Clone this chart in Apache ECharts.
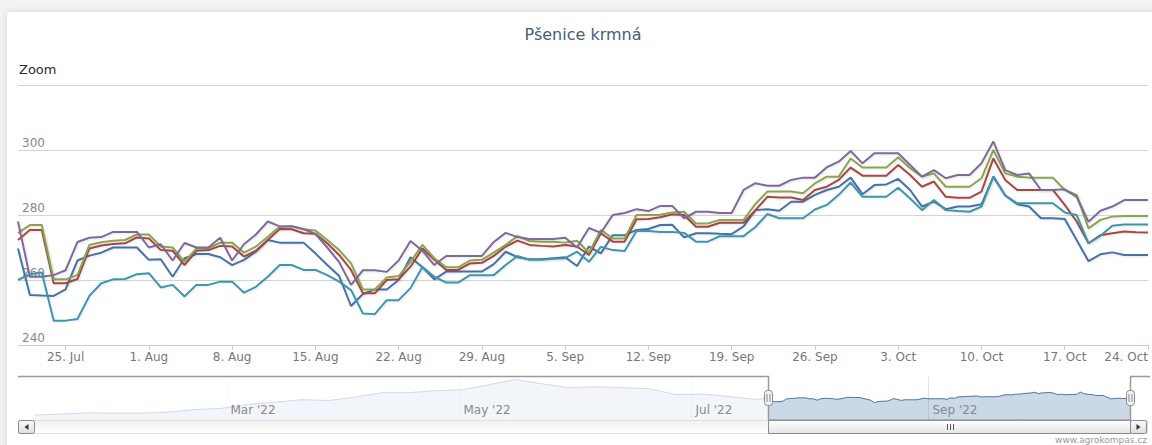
<!DOCTYPE html>
<html>
<head>
<meta charset="utf-8">
<title>Pšenice krmná</title>
<script src="https://cdn.jsdelivr.net/npm/echarts@6/dist/echarts.min.js"></script>
<style>
  html, body { margin: 0; padding: 0; background: #f3f3f3; overflow: hidden; }
  #card { position: absolute; left: 7px; top: 12px; width: 1170px; height: 460px; background: #fff;
          box-shadow: 0 0 7px rgba(0, 0, 0, 0.13); border-radius: 3px; }
  #chart { position: absolute; left: 0; top: 0; width: 1152px; height: 445px; }
</style>
</head>
<body>
<div id="card"></div>
<div id="chart"></div>
<script>
// daily values 21 Jul 2022 .. 24 Oct 2022
var startDate = Date.UTC(2022, 6, 21);
var dayCount = 96;
var DAY = 86400000;

var blue = [269.7, 255.4, 255.2, 255.1, 257.1, 266, 267.5, 268.4, 270, 270, 270, 266.2, 266.4, 261, 266.7, 268, 268,
  267, 264.6, 266.2, 268.7, 272.3, 271.5, 271.5, 271.5, 268.2, 264.6, 261.2, 252, 255.7, 257.1, 257.1, 260,
  267, 263.9, 260.2, 262.6, 262.6, 262.6, 262.6, 264.9, 268.7, 267, 266.4, 266.4, 266.7, 267, 264.3, 270.3, 268.2,
  273.8, 273.8, 275.4, 275.7, 276.9, 277, 273.1, 274.4, 274.4, 274.2, 274.1, 276.5, 281.5, 281.8, 281.3, 284.1,
  284.1, 286.2, 287.7, 288.7, 291.5, 286.4, 289.2, 289.4, 291.1, 287.7, 282.6, 284.1, 281.8, 282.6,
  282.6, 283.3, 291.8, 286, 283.3, 282.6, 279, 279, 278.8, 272.3, 265.8, 267.9, 268.5, 267.7, 267.7, 267.7];

var red = [272.3, 275.4, 275.4, 259, 259, 260.3, 269.7, 270.6, 271.1, 271.3, 273.1, 272.8, 269.2, 269, 264.6, 269, 269.2,
  270.5, 270.3, 267.2, 269, 272.3, 275.7, 275.6, 274.4, 274.2, 271.3, 267.7, 263.1, 255.9, 255.9, 260, 260.2,
  264.1, 269.7, 266.2, 263.1, 263.1, 265.1, 265.3, 267.4, 270.3, 272.1, 270.8, 270.5, 270.3, 270.8, 270.3, 267.7, 274.4,
  271.8, 271.8, 278.7, 278.8, 279.3, 280.2, 280, 276.4, 276.4, 277.6, 277.6, 277.6, 281.5, 285.6, 285.4, 285.4,
  284.6, 287.7, 288.7, 290.8, 294.6, 292.1, 292.1, 292.1, 295.4, 292.3, 288.7, 290.3, 285.6, 285.3,
  285.3, 287.2, 297.4, 290.8, 287.7, 287.7, 287.7, 287.7, 283.1, 278, 271.3, 273.8, 274.4, 274.9, 274.7, 274.6];

var green = [274.4, 276.9, 276.9, 260.2, 260.2, 261.5, 270.8, 271.6, 272.1, 272.3, 274, 274, 270.3, 270, 265.6, 269.7, 269.7,
  271.5, 271.5, 268.4, 270.3, 273.3, 276.4, 276.6, 275.6, 275.2, 272.3, 269.2, 265.1, 257.1, 257.1, 260.8, 261.2,
  265.6, 270.8, 266.7, 263.9, 263.9, 266, 266.2, 268.4, 270.8, 273.5, 272, 271.8, 271.8, 271.5, 272.1, 268.4, 275.4,
  272.8, 272.8, 280, 280, 280.1, 280.8, 281, 277.4, 277.4, 278.5, 278.5, 278.5, 283.4, 287.2, 287.2, 287.2,
  286.7, 289.7, 291.8, 291.8, 297.4, 294.6, 294.6, 294.6, 297.8, 294.4, 291.8, 292.8, 288.7, 288.7,
  288.7, 291.3, 300, 292.8, 291.8, 291.5, 291.5, 291.5, 287.7, 286.2, 275.9, 278.5, 279.5, 279.7, 279.7, 279.7];

var purple = [278, 261, 261, 261.5, 263, 271.7, 273, 273.2, 274.8, 274.8, 274.8, 270, 271, 266, 271.4, 270, 270,
  273, 266, 271, 274, 278, 276.5, 276.5, 275.7, 274.2, 270, 265.5, 258.5, 263, 263, 262.5, 266,
  272, 269, 264.6, 267.4, 267.4, 267.4, 267.4, 271.7, 274.5, 273.2, 272.6, 272.6, 272.6, 273, 270, 276, 274.5,
  280, 280.6, 281.8, 281.2, 282.8, 282.8, 279, 281, 281, 280.6, 280.6, 287.7, 289.8, 289, 289, 290.8,
  291.5, 291.5, 294.7, 296.4, 299.7, 295.9, 299, 299, 299, 295.4, 291.8, 293.8, 291.3, 292.3,
  292.3, 295.9, 302.6, 293.8, 292.3, 292.8, 287.7, 287.7, 287.9, 285.6, 277.9, 281.3, 282.6, 284.6, 284.6, 284.6];

var teal = [260, 261.8, 262.3, 247.5, 247.5, 248, 255.1, 259, 260.2, 260.3, 261.8, 262.1, 257.7, 258.5, 254.9, 258.5, 258.5,
  259.5, 259.5, 256.1, 257.9, 261, 264.6, 264.6, 263.1, 263.1, 261.5, 259.5, 256.9, 249.7, 249.5, 253.8, 253.8,
  257.5, 264, 261, 259.2, 259.2, 261.5, 261.5, 261.5, 264.6, 267.4, 266.2, 266.2, 266.5, 266.7, 268.7, 265.6, 270.2,
  269.2, 268.9, 275.1, 275.1, 274.8, 274.8, 274.5, 271.8, 271.8, 273.5, 273.5, 273.5, 276.3, 280.3, 279, 279,
  279, 281.7, 283.1, 286.2, 290, 285.6, 285.6, 285.6, 288.4, 285.1, 281.5, 284.6, 281.5, 281.2,
  281, 282.6, 291.8, 286, 283.6, 283.6, 283.6, 283.6, 280.8, 280, 271.3, 273.6, 276.7, 277.1, 277.1, 277.1];

// navigator: weekly values from 10 Jan 2022 up to 18 Jul, then the daily blue series
var navStart = Date.UTC(2022, 0, 10);
var navWeekly = [203.8, 207.5, 212.4, 211.3, 211.3, 215, 225, 230, 245, 253.6, 262.6, 260, 273, 290, 290,
  297.5, 301, 320, 340.6, 323.8, 308.8, 312.5, 308.8, 305, 282.5, 284.4, 275, 263.8];
var navMonths = [Date.UTC(2022, 2, 1), Date.UTC(2022, 4, 1), Date.UTC(2022, 6, 1), Date.UTC(2022, 8, 1)];
var navMonthLabels = ["Mar '22", "May '22", "Jul '22", "Sep '22"];

var yTicks = [240, 260, 280, 300];
var seriesNames = ['Řada 1', 'Řada 2', 'Řada 3', 'Řada 4', 'Řada 5'];
var colors = ['#4572A7', '#AA4643', '#89A54E', '#80699B', '#3D96AE'];
var monthNames = ['Jan', 'Feb', 'Mar', 'Apr', 'May', 'Jun', 'Jul', 'Aug', 'Sep', 'Oct', 'Nov', 'Dec'];

var dayDates = [], dayLabels = [];
for (var i = 0; i < dayCount; i++) {
  var d = new Date(startDate + i * DAY);
  dayDates.push(d);
  dayLabels.push(d.getUTCDate() + '. ' + monthNames[d.getUTCMonth()]);
}
var isMonday = function (idx) { return dayDates[idx].getUTCDay() === 1; };

var navData = [];
for (var k = 0; k < navWeekly.length; k++) navData.push([navStart + k * 7 * DAY, navWeekly[k]]);
for (var j = 0; j < dayCount; j++) navData.push([startDate + j * DAY, blue[j]]);

var FONT = '"DejaVu Sans", Verdana, sans-serif';
var chart = echarts.init(document.getElementById('chart'), null, { renderer: 'svg' });

// navigator box (layout only)
var nav = { left: 35, right: 1130, top: 377, bottom: 420, outerLeft: 18, outerRight: 1148 };

var lineSeries = [blue, red, green, purple, teal].map(function (vals, n) {
  return {
    name: seriesNames[n], type: 'line', xAxisIndex: 0, yAxisIndex: 0,
    data: vals, symbol: 'none', silent: true,
    lineStyle: { width: 2, color: colors[n], shadowColor: 'rgba(0,0,0,0.10)', shadowBlur: 2, shadowOffsetX: 1, shadowOffsetY: 1 },
    itemStyle: { color: colors[n] }
  };
});

var option = {
  animation: false,
  textStyle: { fontFamily: FONT },
  grid: [
    { left: 18, right: 4, top: 85, bottom: 100 },
    { left: nav.left, right: 1152 - nav.right, top: nav.top, height: nav.bottom - nav.top }
  ],
  xAxis: [{
    type: 'category', gridIndex: 0, data: dayLabels, boundaryGap: false,
    axisLine: { lineStyle: { color: '#C0D0E0', width: 1 } },
    axisTick: { show: true, length: 5, interval: function (idx) { return isMonday(idx); }, lineStyle: { color: '#C0D0E0' } },
    axisLabel: { interval: function (idx) { return isMonday(idx); }, color: '#777', fontSize: 12, fontFamily: FONT, margin: 6, alignMaxLabel: 'right' },
    splitLine: { show: false }
  }, {
    type: 'time', gridIndex: 1, min: navStart, max: startDate + (dayCount - 1) * DAY, show: false
  }],
  yAxis: [{
    type: 'value', gridIndex: 0, min: 240, max: 320, interval: 20,
    axisLine: { show: false }, axisTick: { show: false },
    splitLine: { lineStyle: { color: '#d4d4d4', width: 1 } },
    axisLabel: {
      inside: true, verticalAlign: 'bottom', margin: 4, padding: [0, 0, 1, 0], color: '#888', fontSize: 12, fontFamily: FONT,
      formatter: function (v) { return yTicks.indexOf(v) >= 0 ? String(v) : ''; }
    }
  }, {
    type: 'value', gridIndex: 1, min: 185, max: 350, show: false
  }],
  series: lineSeries.concat([{
    name: 'navigator', type: 'line', xAxisIndex: 1, yAxisIndex: 1, data: navData, symbol: 'none', silent: true,
    lineStyle: { width: 1, color: '#4a74a8' },
    areaStyle: { color: 'rgba(69,114,167,0.40)' }
  }]),
  graphic: { elements: [
    { type: 'text', x: 583, y: 34, silent: true,
      style: { text: 'Pšenice krmná', font: '16px ' + FONT, fill: '#4a5e74', textAlign: 'center', align: 'center', textVerticalAlign: 'middle', verticalAlign: 'middle' } },
    { type: 'text', x: 19, y: 69, silent: true,
      style: { text: 'Zoom', font: '13px ' + FONT, fill: '#2b2b2b', textVerticalAlign: 'middle', verticalAlign: 'middle' } },
    { type: 'text', x: 1147, y: 440, silent: true,
      style: { text: 'www.agrokompas.cz', font: '9px ' + FONT, fill: '#999', textAlign: 'right', align: 'right', textVerticalAlign: 'middle', verticalAlign: 'middle' } }
  ] }
};
chart.setOption(option);

// navigator chrome from the library's own scale
var px = function (t) { return chart.convertToPixel({ xAxisIndex: 1 }, t); };
var xL = Math.round(px(startDate)) + 0.5;
var xR = Math.round(px(startDate + (dayCount - 1) * DAY)) + 0.5;
var g = [];

navMonths.forEach(function (m, n) {
  var x = Math.round(px(m)) + 0.5;
  g.push({ type: 'line', silent: true, z: 1, shape: { x1: x, y1: nav.top, x2: x, y2: nav.bottom }, style: { stroke: '#e2e2e2', lineWidth: 1 } });
  g.push({ type: 'text', silent: true, z: 30, x: x + 4, y: 410,
    style: { text: navMonthLabels[n], font: '12px ' + FONT, fill: '#8a8a8a', textVerticalAlign: 'middle', verticalAlign: 'middle' } });
});

// white mask over the unselected part
g.push({ type: 'rect', silent: true, z: 20, shape: { x: nav.left, y: nav.top, width: xL - nav.left, height: nav.bottom - nav.top }, style: { fill: 'rgba(255,255,255,0.74)' } });

// scrollbar track
var grad = function (a, b) { return { type: 'linear', x: 0, y: 0, x2: 0, y2: 1, colorStops: [{ offset: 0, color: a }, { offset: 1, color: b }] }; };
g.push({ type: 'rect', silent: true, z: 21, shape: { x: nav.outerLeft + 0.5, y: nav.bottom + 0.5, width: nav.outerRight - nav.outerLeft - 1, height: 13 }, style: { fill: grad('#f0f0f0', '#ffffff'), stroke: '#e0e0e0', lineWidth: 1 } });
// scrollbar thumb
g.push({ type: 'rect', silent: true, z: 22, shape: { x: xL, y: nav.bottom + 0.5, width: xR - xL, height: 13 }, style: { fill: grad('#ffffff', '#e4e4e4'), stroke: '#8a8a8a', lineWidth: 1 } });
var cx = Math.round((xL + xR) / 2) + 0.5;
[-3, 0, 3].forEach(function (o) {
  g.push({ type: 'line', silent: true, z: 23, shape: { x1: cx + o, y1: nav.bottom + 4, x2: cx + o, y2: nav.bottom + 10 }, style: { stroke: '#555', lineWidth: 1 } });
});
// scrollbar buttons
var btnW = nav.left - nav.outerLeft;
[[nav.outerLeft + 0.5, -1], [nav.right + 0.5, 1]].forEach(function (b) {
  g.push({ type: 'rect', silent: true, z: 24, shape: { x: b[0], y: nav.bottom + 0.5, width: btnW - 1, height: 13, r: 2 }, style: { fill: grad('#fafafa', '#dedede'), stroke: '#8a8a8a', lineWidth: 1 } });
  var mx = b[0] + (btnW - 1) / 2, my = nav.bottom + 7;
  g.push({ type: 'polygon', silent: true, z: 25, shape: { points: [[mx + 2 * b[1], my], [mx - 2 * b[1], my - 3], [mx - 2 * b[1], my + 3]] }, style: { fill: '#333' } });
});

// outline of the navigator window
g.push({ type: 'polyline', silent: true, z: 26,
  shape: { points: [[nav.outerLeft, nav.top - 0.5], [xL, nav.top - 0.5], [xL, nav.bottom], [xR, nav.bottom], [xR, nav.top - 0.5], [nav.outerRight + 2, nav.top - 0.5]] },
  style: { stroke: '#9a9a9a', lineWidth: 1.5, fill: null } });

// handles
[xL, xR].forEach(function (x) {
  g.push({ type: 'rect', silent: true, z: 27, shape: { x: x - 4, y: 390.5, width: 8, height: 15, r: 3 }, style: { fill: '#f2f2f2', stroke: '#8a8a8a', lineWidth: 1 } });
  g.push({ type: 'line', silent: true, z: 28, shape: { x1: x - 1.5, y1: 394, x2: x - 1.5, y2: 402 }, style: { stroke: '#8a8a8a', lineWidth: 1 } });
  g.push({ type: 'line', silent: true, z: 28, shape: { x1: x + 1.5, y1: 394, x2: x + 1.5, y2: 402 }, style: { stroke: '#8a8a8a', lineWidth: 1 } });
});

chart.setOption({ graphic: { elements: option.graphic.elements.concat(g) } });
</script>
</body>
</html>
